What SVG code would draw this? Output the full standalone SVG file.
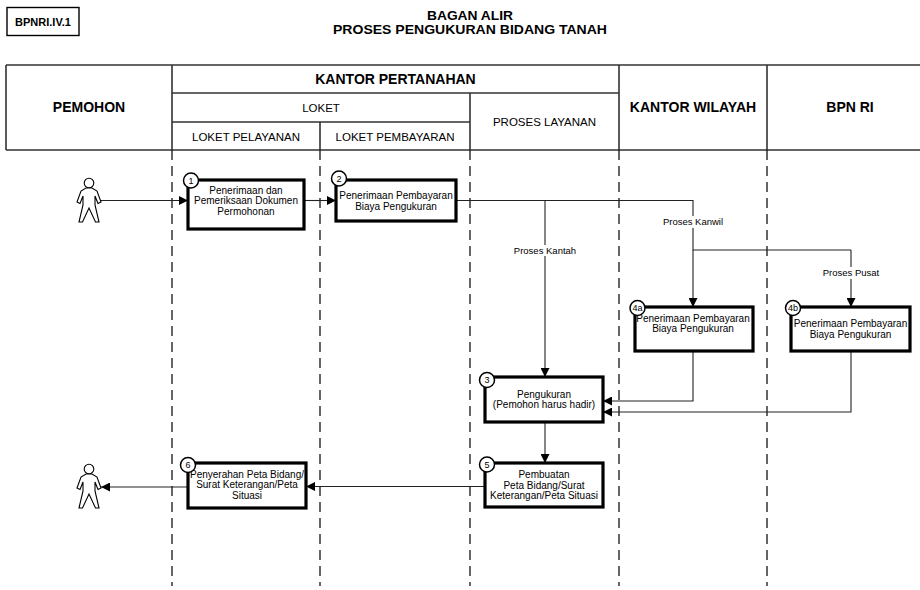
<svg xmlns="http://www.w3.org/2000/svg" width="920" height="590" viewBox="0 0 920 590">
<style>
text{font-family:"Liberation Sans",Arial,sans-serif;fill:#000}
.t{font-size:13px;font-weight:bold;text-anchor:middle}
.h{font-size:14px;font-weight:bold;text-anchor:middle}
.s{font-size:11.5px;text-anchor:middle}
.n{font-size:10px;text-anchor:middle}
.num{font-size:9px;text-anchor:middle}
.grid{stroke:#333;stroke-width:1.6;fill:none}
.lane{stroke:#000;stroke-width:1.2;stroke-dasharray:10 6;fill:none}
.box{fill:#fff;stroke:#000;stroke-width:3.2}
.badge{fill:#fff;stroke:#000;stroke-width:1.4}
.cir{fill:#fff;stroke:#000;stroke-width:1.5}
.c{stroke:#222;stroke-width:1.1;fill:none}
.ca{stroke:#222;stroke-width:1.1;fill:none;marker-end:url(#arr)}
.lbl{font-size:9.5px;text-anchor:middle}
.person{fill:#fff;stroke:#000;stroke-width:1.1}
</style>
<defs>
<marker id="arr" viewBox="0 0 10 10" refX="10" refY="5" markerWidth="9" markerHeight="9" markerUnits="userSpaceOnUse" orient="auto">
<path d="M0,0 L10,5 L0,10 Z" fill="#000"/>
</marker>
</defs>
<rect width="920" height="590" fill="#fff"/>

<g id="badge">
<rect class="badge" x="7" y="7.5" width="72" height="28"/>
<text x="43" y="25.5" style="font-size:11px;font-weight:bold;text-anchor:middle">BPNRI.IV.1</text>
</g>

<g id="title">
<text class="t" x="470" y="20" textLength="86" lengthAdjust="spacingAndGlyphs">BAGAN ALIR</text>
<text class="t" x="470" y="33.5" textLength="274" lengthAdjust="spacingAndGlyphs">PROSES PENGUKURAN BIDANG TANAH</text>
</g>

<g id="header">
<path class="grid" d="M6,65 H920 M6,150 H920 M6,65 V150 M172,65 V150 M619,65 V150 M767,65 V150 M172,93 H619 M172,122 H470 M470,93 V150 M320,122 V150"/>
<text class="h" x="89" y="112">PEMOHON</text>
<text class="h" x="395.5" y="83.5">KANTOR PERTANAHAN</text>
<text class="s" x="321" y="112">LOKET</text>
<text class="s" x="246" y="140.5">LOKET PELAYANAN</text>
<text class="s" x="395" y="140.5">LOKET PEMBAYARAN</text>
<text class="s" x="544.5" y="126">PROSES LAYANAN</text>
<text class="h" x="693" y="112">KANTOR WILAYAH</text>
<text class="h" x="850" y="112">BPN RI</text>
</g>

<g id="lanes">
<path class="lane" d="M172,150 V586 M320,150 V586 M470,150 V586 M619,150 V586 M767,150 V586"/>
</g>

<g id="connectors">
<path class="ca" d="M101,200.5 H188"/>
<path class="ca" d="M304,200.5 H336"/>
<path class="c" d="M456,200.5 H693 V250 H851"/>
<path class="ca" d="M545,200.5 V377"/>
<path class="ca" d="M693,250 V307"/>
<path class="ca" d="M851,250 V307"/>
<path class="ca" d="M693,351 V401 H603"/>
<path class="ca" d="M851,351 V412 H603"/>
<path class="ca" d="M545,422 V463"/>
<path class="ca" d="M485,486.5 H306"/>
<path class="ca" d="M188,487 H101"/>
<rect x="663" y="216" width="60" height="12" fill="#fff"/>
<text class="lbl" x="693" y="225">Proses Kanwil</text>
<rect x="512" y="245" width="66" height="11" fill="#fff"/>
<text class="lbl" x="545" y="253.5">Proses Kantah</text>
<rect x="823" y="267" width="56" height="12" fill="#fff"/>
<text class="lbl" x="851" y="276">Proses Pusat</text>
</g>

<g id="pemohon-start">
<circle class="person" cx="89" cy="183" r="4.8"/>
<path class="person" d="M86,188 L92,188 L97,191 L101,202 L98,203.5 L95,196 L95,205 L99,222 L95.5,222 L89,208 L82.5,222 L79,222 L83,205 L83,196 L80,203.5 L77,202 L81,191 Z"/>
</g>

<g id="pemohon-end">
<circle class="person" cx="89" cy="469" r="4.8"/>
<path class="person" d="M86,474 L92,474 L97,477 L101,488 L98,489.5 L95,482 L95,491 L99,508 L95.5,508 L89,494 L82.5,508 L79,508 L83,491 L83,482 L80,489.5 L77,488 L81,477 Z"/>
</g>

<g id="node1">
<rect class="box" x="188" y="180" width="116" height="49"/>
<text class="n" x="246" y="193.5">Penerimaan dan</text>
<text class="n" x="246" y="204">Pemeriksaan Dokumen</text>
<text class="n" x="246" y="214.5">Permohonan</text>
<circle class="cir" cx="191" cy="180.5" r="7.5"/>
<text class="num" x="191" y="183.7">1</text>
</g>

<g id="node2">
<rect class="box" x="336" y="180" width="120" height="41"/>
<text class="n" x="396" y="199">Penerimaan Pembayaran</text>
<text class="n" x="396" y="209.5">Biaya Pengukuran</text>
<circle class="cir" cx="339" cy="178.5" r="7.5"/>
<text class="num" x="339" y="181.7">2</text>
</g>

<g id="node4a">
<rect class="box" x="635" y="307" width="118" height="44"/>
<text class="n" x="693" y="321.5">Penerimaan Pembayaran</text>
<text class="n" x="693" y="332">Biaya Pengukuran</text>
<circle class="cir" cx="637.5" cy="308" r="7.5"/>
<text class="num" x="637.5" y="311.2">4a</text>
</g>

<g id="node4b">
<rect class="box" x="791" y="307" width="119" height="44"/>
<text class="n" x="850.5" y="327">Penerimaan Pembayaran</text>
<text class="n" x="850.5" y="337.5">Biaya Pengukuran</text>
<circle class="cir" cx="793" cy="308" r="7.5"/>
<text class="num" x="793" y="311.2">4b</text>
</g>

<g id="node3">
<rect class="box" x="485" y="377" width="118" height="45"/>
<text class="n" x="544" y="397.5">Pengukuran</text>
<text class="n" x="544" y="408">(Pemohon harus hadir)</text>
<circle class="cir" cx="487" cy="380" r="7.5"/>
<text class="num" x="487" y="383.2">3</text>
</g>

<g id="node5">
<rect class="box" x="485" y="463" width="118" height="44"/>
<text class="n" x="544" y="478">Pembuatan</text>
<text class="n" x="544" y="488.5">Peta Bidang/Surat</text>
<text class="n" x="544" y="499">Keterangan/Peta Situasi</text>
<circle class="cir" cx="487" cy="464.5" r="7.5"/>
<text class="num" x="487" y="467.7">5</text>
</g>

<g id="node6">
<rect class="box" x="188" y="463" width="118" height="45"/>
<text class="n" x="247" y="477.5">Penyerahan Peta Bidang/</text>
<text class="n" x="247" y="488">Surat Keterangan/Peta</text>
<text class="n" x="247" y="498.5">Situasi</text>
<circle class="cir" cx="188" cy="465" r="7.5"/>
<text class="num" x="188" y="468.2">6</text>
</g>
</svg>
